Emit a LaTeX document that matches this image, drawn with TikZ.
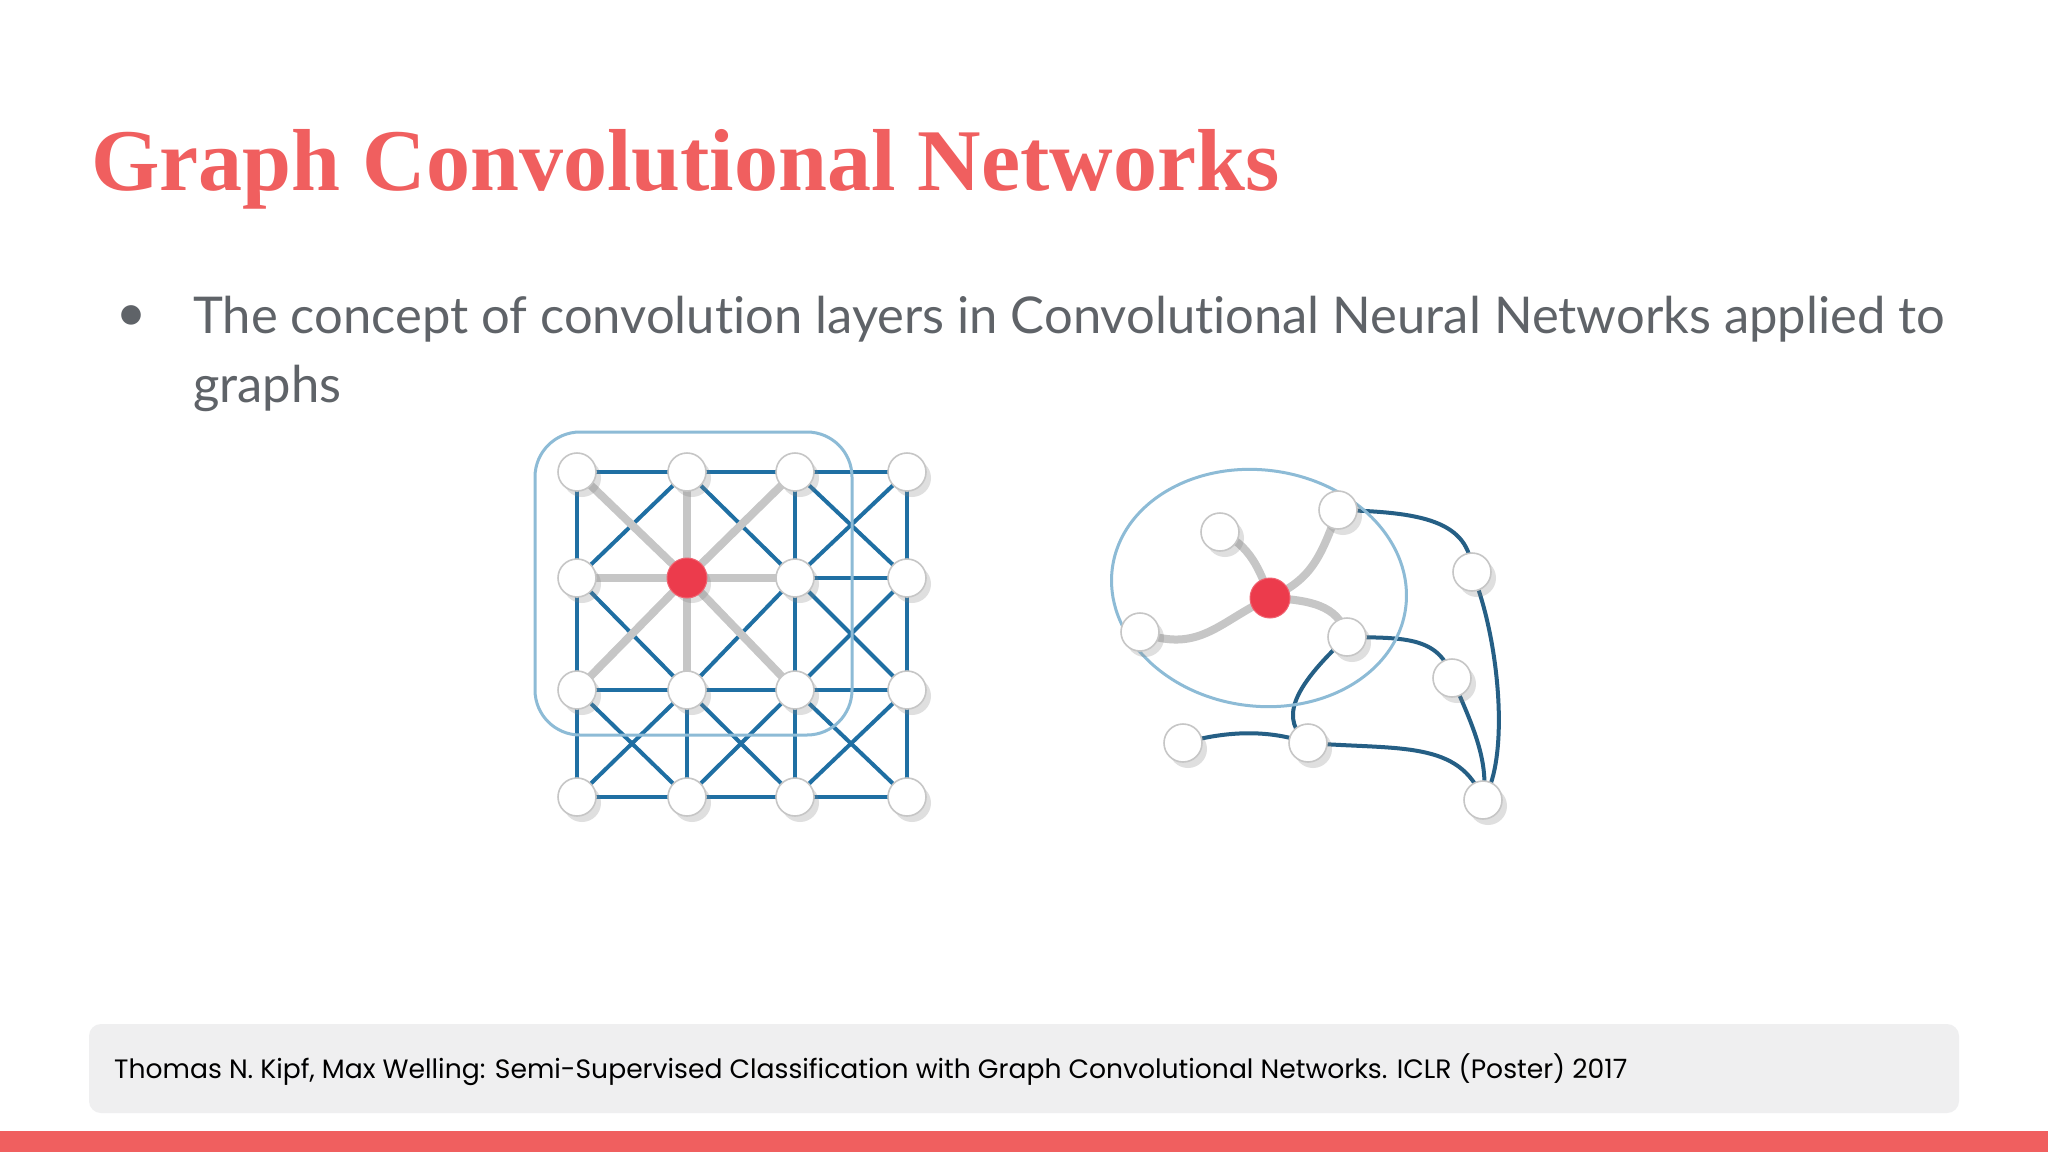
\documentclass[tikz,border=0pt]{standalone}
\usepackage{fontspec}
\setmainfont[Ligatures=NoCommon]{Lato}
\newfontfamily\titlefont{Liberation Serif}
\newfontfamily\footfont{Poppins}
\usetikzlibrary{shadows}
\definecolor{accent}{HTML}{F05F5F}
\definecolor{bodygray}{HTML}{5F6368}
\definecolor{eblue}{HTML}{1F6FA3}
\definecolor{dblue}{HTML}{255F85}
\definecolor{lblue}{HTML}{8DBBD6}
\definecolor{egray}{HTML}{C6C6C6}
\definecolor{boxgray}{HTML}{EFEFF0}
\definecolor{rfill}{HTML}{EC3B4C}
\tikzset{
  vnode/.style={circle,minimum size=38pt,inner sep=0pt,fill=white,draw=gray!45,line width=1.6pt,
     drop shadow={shadow xshift=5pt,shadow yshift=-6pt,opacity=0.25,fill=gray}},
  rnode/.style={circle,minimum size=40pt,inner sep=0pt,fill=rfill,draw=rfill!80!white,line width=1pt},
  bedge/.style={draw=eblue,line width=4pt},
  dedge/.style={draw=dblue,line width=4pt},
  gedge/.style={draw=egray,line width=8pt,line cap=round},
  hull/.style={draw=lblue,line width=3pt}
}
\begin{document}
\begin{tikzpicture}[x=1pt,y=-1pt]
\useasboundingbox (0,0) rectangle (2048,1152);
\fill[white] (0,0) rectangle (2048,1152);
% title
\node[anchor=base west,inner sep=0pt,text=accent] (title) at (91,190)
  {\titlefont\bfseries\fontsize{88}{96}\selectfont Graph Convolutional Networks};
% bullet
\node[anchor=center,inner sep=0pt,text=bodygray] (bul) at (131,317) {\fontsize{40}{40}\selectfont\symbol{"25CF}};
\node[anchor=base west,inner sep=0pt,text=bodygray] (l1) at (193,333)
  {\fontsize{50.7}{60}\selectfont The concept of convolution layers in Convolutional Neural Networks applied to};
\node[anchor=base west,inner sep=0pt,text=bodygray] (l2) at (193,402)
  {\fontsize{50.7}{60}\selectfont graphs};
% footer
\fill[boxgray,rounded corners=12pt] (89,1024) rectangle (1959,1113);
\node[anchor=base west,inner sep=0pt,text=black] (ref) at (114,1078)
  {\footfont\fontsize{26.6}{30}\selectfont Thomas N. Kipf, Max Welling: Semi-Supervised Classification with Graph Convolutional Networks. ICLR (Poster) 2017};
\fill[accent] (0,1131) rectangle (2048,1152);

% ---------- grid graph ----------
\foreach \i/\x in {0/577,1/687,2/795,3/907}
  \foreach \j/\y in {0/472,1/578,2/690,3/797}
    \coordinate (g\i\j) at (\x,\y);
\foreach \i in {0,1,2,3}
  \foreach \j/\k in {0/1,1/2,2/3}{
    \draw[bedge] (g\i\j) -- (g\i\k);
    \draw[bedge] (g\j\i) -- (g\k\i);
  }
\foreach \i/\ii in {0/1,1/2,2/3}
  \foreach \j/\jj in {0/1,1/2,2/3}{
    \draw[bedge] (g\i\j) -- (g\ii\jj);
    \draw[bedge] (g\ii\j) -- (g\i\jj);
  }
\foreach \n in {00,10,20,01,21,02,12,22}
  \draw[gedge] (g11) -- (g\n);
\draw[hull,rounded corners=45pt] (535,432) rectangle (852,735);
\foreach \i in {0,1,2,3}
  \foreach \j in {0,1,2,3}
    \node[vnode] (n\i\j) at (g\i\j) {};
\node[rnode] (c11) at (g11) {};

% ---------- general graph ----------
\coordinate (pR) at (1270,598);
\coordinate (pA) at (1220,532);
\coordinate (pB) at (1140,632);
\coordinate (pC) at (1338,510);
\coordinate (pD) at (1347,637);
\coordinate (pE) at (1472,572);
\coordinate (pF) at (1452,678);
\coordinate (pG) at (1183,743);
\coordinate (pH) at (1308,743);
\coordinate (pI) at (1483,800);
\draw[dedge] (pC) .. controls (1420,512) and (1470,520) .. (pE);
\draw[dedge] (pE) .. controls (1500,640) and (1510,760) .. (pI);
\draw[dedge] (pD) .. controls (1400,638) and (1440,635) .. (pF);
\draw[dedge] (pF) .. controls (1470,720) and (1490,760) .. (pI);
\draw[dedge] (pD) .. controls (1290,690) and (1280,720) .. (pH);
\draw[dedge] (pG) .. controls (1230,730) and (1270,730) .. (pH);
\draw[dedge] (pH) .. controls (1400,750) and (1460,740) .. (pI);
\draw[gedge] (pR) .. controls (1260,570) and (1250,545) .. (pA);
\draw[gedge] (pR) .. controls (1220,620) and (1200,655) .. (pB);
\draw[gedge] (pR) .. controls (1310,580) and (1320,560) .. (pC);
\draw[gedge] (pR) .. controls (1320,600) and (1340,610) .. (pD);
\draw[hull,rotate around={-8:(1259,588)}] (1259,588) ellipse [x radius=148,y radius=118];
\foreach \p in {A,B,C,D,E,F,G,H,I}
  \node[vnode] (m\p) at (p\p) {};
\node[rnode] (mR) at (pR) {};
\end{tikzpicture}
\end{document}
